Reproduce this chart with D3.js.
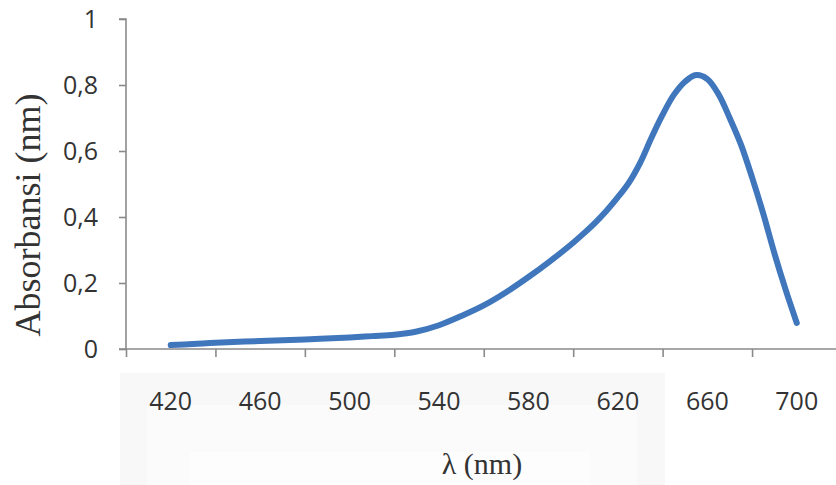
<!DOCTYPE html>
<html>
<head>
<meta charset="utf-8">
<script src="https://cdn.jsdelivr.net/npm/d3@7"></script>
<style>
  html, body { margin: 0; padding: 0; background: #ffffff; }
  svg { display: block; }
</style>
</head>
<body>
<svg id="chart" width="836" height="485"></svg>
<script>
// Absorption spectrum: wavelength (nm) vs absorbance
const wavelengths = [420, 430, 440, 460, 480, 500, 510, 520, 530, 540, 550, 560, 570, 580, 590, 600, 605, 610, 615, 620, 625, 630, 635, 640, 645, 650, 655, 660, 665, 670, 675, 680, 685, 690, 695, 700];
const absorbance  = [0.012, 0.015, 0.019, 0.024, 0.029, 0.035, 0.039, 0.043, 0.053, 0.072, 0.100, 0.132, 0.172, 0.218, 0.268, 0.322, 0.352, 0.384, 0.42, 0.46, 0.505, 0.565, 0.64, 0.71, 0.77, 0.81, 0.83, 0.818, 0.772, 0.70, 0.62, 0.52, 0.41, 0.29, 0.18, 0.079];

// Axis ticks: tick marks sit between the labelled wavelengths
const xTickMarks  = [400, 440, 480, 520, 560, 600, 640, 680];
const xTickLabels = [420, 460, 500, 540, 580, 620, 660, 700];
const yTicks      = [0, 0.2, 0.4, 0.6, 0.8, 1];

const xTitle = "λ (nm)";
const yTitle = "Absorbansi (nm)";

const svg = d3.select("#chart");

const x = d3.scaleLinear().domain([400, 720]).range([126, 841.5]);
const y = d3.scaleLinear().domain([0, 1]).range([349, 19]);

const axisColor = "#8a8a8a";
const textColor = "#333333";
const tickFont = "'Open Sans', 'Liberation Sans', sans-serif";
const titleFont = "'Liberation Serif', 'Times New Roman', serif";

// faint background emblem under the axis labels
const wm = svg.append("g").attr("class", "emblem");
wm.append("rect").attr("x", 120).attr("y", 373).attr("width", 545).attr("height", 112).attr("fill", "#f8f8f8");
wm.append("rect").attr("x", 147).attr("y", 405).attr("width", 490).attr("height", 80).attr("fill", "#fbfbfb");
wm.append("rect").attr("x", 190).attr("y", 452).attr("width", 400).attr("height", 33).attr("fill", "#fdfdfd");

// Y axis
const yAxis = d3.axisLeft(y)
  .tickValues(yTicks)
  .tickSize(7)
  .tickPadding(21)
  .tickFormat(d => d3.format("~g")(d).replace(".", ","));
const gy = svg.append("g").attr("transform", "translate(126,0)").call(yAxis);
gy.select(".domain").attr("stroke", axisColor).attr("stroke-width", 1.6).attr("d", `M-7,${y(1)}H0V${y(0)}`);
gy.selectAll(".tick line").attr("stroke", axisColor).attr("stroke-width", 1.6);
gy.selectAll(".tick text")
  .attr("fill", textColor)
  .style("font-family", tickFont)
  .style("font-size", "25px");

// X axis
const xAxis = d3.axisBottom(x)
  .tickValues(xTickMarks)
  .tickSize(8)
  .tickFormat("");
const gx = svg.append("g").attr("transform", `translate(0,${y(0)})`).call(xAxis);
gx.select(".domain").attr("stroke", axisColor).attr("stroke-width", 1.6).attr("d", `M119,0H836`);
gx.selectAll(".tick line").attr("stroke", axisColor).attr("stroke-width", 1.6);

svg.append("g").selectAll("text")
  .data(xTickLabels)
  .join("text")
  .attr("x", d => x(d))
  .attr("y", 410)
  .attr("text-anchor", "middle")
  .attr("fill", textColor)
  .style("font-family", tickFont)
  .style("font-size", "25px")
  .text(d => d);

// Spectrum line
const line = d3.line()
  .x((d, i) => x(wavelengths[i]))
  .y(d => y(d))
  .curve(d3.curveCatmullRom.alpha(0.5));

svg.append("path")
  .datum(absorbance)
  .attr("d", line)
  .attr("fill", "none")
  .attr("stroke", "#4077bc")
  .attr("stroke-width", 6)
  .attr("stroke-linecap", "round")
  .attr("stroke-linejoin", "round");

// Axis titles
svg.append("text")
  .attr("transform", "translate(40,215) rotate(-90)")
  .attr("text-anchor", "middle")
  .attr("fill", textColor)
  .style("font-family", titleFont)
  .style("font-size", "36px")
  .text(yTitle);

svg.append("text")
  .attr("x", 482)
  .attr("y", 474)
  .attr("text-anchor", "middle")
  .attr("fill", textColor)
  .style("font-family", titleFont)
  .style("font-size", "30px")
  .text(xTitle);
</script>
</body>
</html>
